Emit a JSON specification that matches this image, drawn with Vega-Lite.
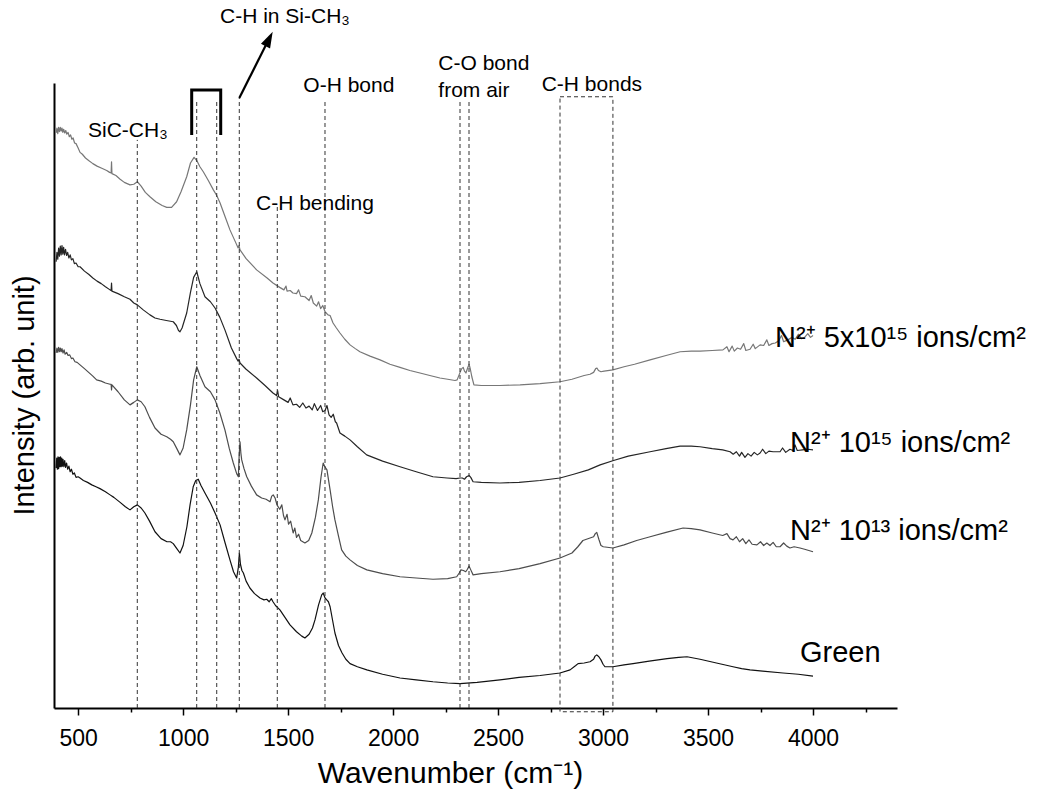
{
  "$schema": "https://vega.github.io/schema/vega-lite/v6.json",
  "width": 843,
  "height": 625,
  "autosize": "none",
  "padding": {"left": 54, "top": 83, "right": 148, "bottom": 84},
  "background": "white",
  "config": {
    "view": {"stroke": null},
    "font": "Liberation Sans",
    "axis": {"labelFont": "Liberation Sans", "titleFont": "Liberation Sans", "titleFontWeight": "normal", "titleColor": "black", "labelColor": "black"}
  },
  "datasets": {
    "spectra": [
      {"sample": "N2+ 5x10^15", "wavenumber": 395, "intensity": 92.0},
      {"sample": "N2+ 5x10^15", "wavenumber": 399, "intensity": 92.8},
      {"sample": "N2+ 5x10^15", "wavenumber": 403, "intensity": 91.9},
      {"sample": "N2+ 5x10^15", "wavenumber": 407, "intensity": 92.9},
      {"sample": "N2+ 5x10^15", "wavenumber": 411, "intensity": 92.2},
      {"sample": "N2+ 5x10^15", "wavenumber": 415, "intensity": 92.9},
      {"sample": "N2+ 5x10^15", "wavenumber": 419, "intensity": 92.3},
      {"sample": "N2+ 5x10^15", "wavenumber": 423, "intensity": 92.8},
      {"sample": "N2+ 5x10^15", "wavenumber": 427, "intensity": 92.1},
      {"sample": "N2+ 5x10^15", "wavenumber": 431, "intensity": 92.6},
      {"sample": "N2+ 5x10^15", "wavenumber": 436, "intensity": 92.0},
      {"sample": "N2+ 5x10^15", "wavenumber": 441, "intensity": 92.4},
      {"sample": "N2+ 5x10^15", "wavenumber": 446, "intensity": 91.8},
      {"sample": "N2+ 5x10^15", "wavenumber": 452, "intensity": 92.1},
      {"sample": "N2+ 5x10^15", "wavenumber": 458, "intensity": 91.4},
      {"sample": "N2+ 5x10^15", "wavenumber": 464, "intensity": 91.7},
      {"sample": "N2+ 5x10^15", "wavenumber": 470, "intensity": 91.0},
      {"sample": "N2+ 5x10^15", "wavenumber": 476, "intensity": 91.2},
      {"sample": "N2+ 5x10^15", "wavenumber": 483, "intensity": 90.4},
      {"sample": "N2+ 5x10^15", "wavenumber": 490, "intensity": 90.3},
      {"sample": "N2+ 5x10^15", "wavenumber": 500, "intensity": 89.6},
      {"sample": "N2+ 5x10^15", "wavenumber": 509, "intensity": 88.9},
      {"sample": "N2+ 5x10^15", "wavenumber": 520, "intensity": 88.6},
      {"sample": "N2+ 5x10^15", "wavenumber": 535, "intensity": 88.0},
      {"sample": "N2+ 5x10^15", "wavenumber": 550, "intensity": 87.6},
      {"sample": "N2+ 5x10^15", "wavenumber": 570, "intensity": 87.1},
      {"sample": "N2+ 5x10^15", "wavenumber": 590, "intensity": 86.7},
      {"sample": "N2+ 5x10^15", "wavenumber": 610, "intensity": 86.4},
      {"sample": "N2+ 5x10^15", "wavenumber": 636, "intensity": 86.0},
      {"sample": "N2+ 5x10^15", "wavenumber": 650, "intensity": 85.7},
      {"sample": "N2+ 5x10^15", "wavenumber": 657, "intensity": 85.6},
      {"sample": "N2+ 5x10^15", "wavenumber": 659, "intensity": 87.4},
      {"sample": "N2+ 5x10^15", "wavenumber": 661, "intensity": 85.5},
      {"sample": "N2+ 5x10^15", "wavenumber": 680, "intensity": 85.2},
      {"sample": "N2+ 5x10^15", "wavenumber": 700, "intensity": 84.6},
      {"sample": "N2+ 5x10^15", "wavenumber": 720, "intensity": 84.1},
      {"sample": "N2+ 5x10^15", "wavenumber": 747, "intensity": 83.7},
      {"sample": "N2+ 5x10^15", "wavenumber": 765, "intensity": 83.8},
      {"sample": "N2+ 5x10^15", "wavenumber": 782, "intensity": 84.2},
      {"sample": "N2+ 5x10^15", "wavenumber": 800, "intensity": 83.5},
      {"sample": "N2+ 5x10^15", "wavenumber": 820, "intensity": 82.5},
      {"sample": "N2+ 5x10^15", "wavenumber": 842, "intensity": 81.8},
      {"sample": "N2+ 5x10^15", "wavenumber": 870, "intensity": 81.0},
      {"sample": "N2+ 5x10^15", "wavenumber": 900, "intensity": 80.4},
      {"sample": "N2+ 5x10^15", "wavenumber": 922, "intensity": 80.1},
      {"sample": "N2+ 5x10^15", "wavenumber": 945, "intensity": 80.1},
      {"sample": "N2+ 5x10^15", "wavenumber": 969, "intensity": 81.0},
      {"sample": "N2+ 5x10^15", "wavenumber": 990, "intensity": 82.6},
      {"sample": "N2+ 5x10^15", "wavenumber": 1017, "intensity": 85.0},
      {"sample": "N2+ 5x10^15", "wavenumber": 1035, "intensity": 87.2},
      {"sample": "N2+ 5x10^15", "wavenumber": 1052, "intensity": 88.1},
      {"sample": "N2+ 5x10^15", "wavenumber": 1065, "intensity": 87.6},
      {"sample": "N2+ 5x10^15", "wavenumber": 1080, "intensity": 86.6},
      {"sample": "N2+ 5x10^15", "wavenumber": 1096, "intensity": 85.8},
      {"sample": "N2+ 5x10^15", "wavenumber": 1120, "intensity": 84.4},
      {"sample": "N2+ 5x10^15", "wavenumber": 1144, "intensity": 82.9},
      {"sample": "N2+ 5x10^15", "wavenumber": 1160, "intensity": 82.0},
      {"sample": "N2+ 5x10^15", "wavenumber": 1176, "intensity": 80.8},
      {"sample": "N2+ 5x10^15", "wavenumber": 1200, "intensity": 78.6},
      {"sample": "N2+ 5x10^15", "wavenumber": 1223, "intensity": 76.5},
      {"sample": "N2+ 5x10^15", "wavenumber": 1250, "intensity": 74.5},
      {"sample": "N2+ 5x10^15", "wavenumber": 1262, "intensity": 73.6},
      {"sample": "N2+ 5x10^15", "wavenumber": 1266, "intensity": 74.0},
      {"sample": "N2+ 5x10^15", "wavenumber": 1271, "intensity": 73.3},
      {"sample": "N2+ 5x10^15", "wavenumber": 1300, "intensity": 71.9},
      {"sample": "N2+ 5x10^15", "wavenumber": 1350, "intensity": 70.1},
      {"sample": "N2+ 5x10^15", "wavenumber": 1400, "intensity": 68.8},
      {"sample": "N2+ 5x10^15", "wavenumber": 1428, "intensity": 68.0},
      {"sample": "N2+ 5x10^15", "wavenumber": 1460, "intensity": 67.3},
      {"sample": "N2+ 5x10^15", "wavenumber": 1480, "intensity": 66.9},
      {"sample": "N2+ 5x10^15", "wavenumber": 1490, "intensity": 67.5},
      {"sample": "N2+ 5x10^15", "wavenumber": 1495, "intensity": 66.7},
      {"sample": "N2+ 5x10^15", "wavenumber": 1510, "intensity": 66.8},
      {"sample": "N2+ 5x10^15", "wavenumber": 1523, "intensity": 66.4},
      {"sample": "N2+ 5x10^15", "wavenumber": 1540, "intensity": 66.3},
      {"sample": "N2+ 5x10^15", "wavenumber": 1550, "intensity": 66.9},
      {"sample": "N2+ 5x10^15", "wavenumber": 1560, "intensity": 65.9},
      {"sample": "N2+ 5x10^15", "wavenumber": 1580, "intensity": 65.8},
      {"sample": "N2+ 5x10^15", "wavenumber": 1600, "intensity": 65.2},
      {"sample": "N2+ 5x10^15", "wavenumber": 1610, "intensity": 66.0},
      {"sample": "N2+ 5x10^15", "wavenumber": 1620, "intensity": 64.8},
      {"sample": "N2+ 5x10^15", "wavenumber": 1636, "intensity": 64.3},
      {"sample": "N2+ 5x10^15", "wavenumber": 1645, "intensity": 65.0},
      {"sample": "N2+ 5x10^15", "wavenumber": 1655, "intensity": 63.9},
      {"sample": "N2+ 5x10^15", "wavenumber": 1665, "intensity": 64.4},
      {"sample": "N2+ 5x10^15", "wavenumber": 1676, "intensity": 63.4},
      {"sample": "N2+ 5x10^15", "wavenumber": 1690, "intensity": 62.9},
      {"sample": "N2+ 5x10^15", "wavenumber": 1700, "intensity": 62.8},
      {"sample": "N2+ 5x10^15", "wavenumber": 1714, "intensity": 61.6},
      {"sample": "N2+ 5x10^15", "wavenumber": 1730, "intensity": 60.8},
      {"sample": "N2+ 5x10^15", "wavenumber": 1747, "intensity": 60.0},
      {"sample": "N2+ 5x10^15", "wavenumber": 1770, "intensity": 59.0},
      {"sample": "N2+ 5x10^15", "wavenumber": 1795, "intensity": 58.1},
      {"sample": "N2+ 5x10^15", "wavenumber": 1820, "intensity": 57.5},
      {"sample": "N2+ 5x10^15", "wavenumber": 1842, "intensity": 57.0},
      {"sample": "N2+ 5x10^15", "wavenumber": 1890, "intensity": 56.3},
      {"sample": "N2+ 5x10^15", "wavenumber": 1938, "intensity": 55.7},
      {"sample": "N2+ 5x10^15", "wavenumber": 1985, "intensity": 55.0},
      {"sample": "N2+ 5x10^15", "wavenumber": 2033, "intensity": 54.5},
      {"sample": "N2+ 5x10^15", "wavenumber": 2080, "intensity": 54.0},
      {"sample": "N2+ 5x10^15", "wavenumber": 2128, "intensity": 53.6},
      {"sample": "N2+ 5x10^15", "wavenumber": 2175, "intensity": 53.2},
      {"sample": "N2+ 5x10^15", "wavenumber": 2223, "intensity": 52.8},
      {"sample": "N2+ 5x10^15", "wavenumber": 2260, "intensity": 52.6},
      {"sample": "N2+ 5x10^15", "wavenumber": 2295, "intensity": 52.4},
      {"sample": "N2+ 5x10^15", "wavenumber": 2305, "intensity": 52.5},
      {"sample": "N2+ 5x10^15", "wavenumber": 2312, "intensity": 53.1},
      {"sample": "N2+ 5x10^15", "wavenumber": 2319, "intensity": 53.7},
      {"sample": "N2+ 5x10^15", "wavenumber": 2327, "intensity": 54.3},
      {"sample": "N2+ 5x10^15", "wavenumber": 2334, "intensity": 54.5},
      {"sample": "N2+ 5x10^15", "wavenumber": 2340, "intensity": 53.9},
      {"sample": "N2+ 5x10^15", "wavenumber": 2347, "intensity": 53.6},
      {"sample": "N2+ 5x10^15", "wavenumber": 2355, "intensity": 54.4},
      {"sample": "N2+ 5x10^15", "wavenumber": 2362, "intensity": 55.0},
      {"sample": "N2+ 5x10^15", "wavenumber": 2368, "intensity": 54.2},
      {"sample": "N2+ 5x10^15", "wavenumber": 2375, "intensity": 53.0},
      {"sample": "N2+ 5x10^15", "wavenumber": 2385, "intensity": 51.7},
      {"sample": "N2+ 5x10^15", "wavenumber": 2420, "intensity": 51.6},
      {"sample": "N2+ 5x10^15", "wavenumber": 2509, "intensity": 51.6},
      {"sample": "N2+ 5x10^15", "wavenumber": 2605, "intensity": 51.7},
      {"sample": "N2+ 5x10^15", "wavenumber": 2700, "intensity": 51.9},
      {"sample": "N2+ 5x10^15", "wavenumber": 2795, "intensity": 52.2},
      {"sample": "N2+ 5x10^15", "wavenumber": 2852, "intensity": 52.6},
      {"sample": "N2+ 5x10^15", "wavenumber": 2910, "intensity": 53.2},
      {"sample": "N2+ 5x10^15", "wavenumber": 2938, "intensity": 53.4},
      {"sample": "N2+ 5x10^15", "wavenumber": 2955, "intensity": 53.7},
      {"sample": "N2+ 5x10^15", "wavenumber": 2965, "intensity": 54.3},
      {"sample": "N2+ 5x10^15", "wavenumber": 2971, "intensity": 54.4},
      {"sample": "N2+ 5x10^15", "wavenumber": 2978, "intensity": 54.0},
      {"sample": "N2+ 5x10^15", "wavenumber": 2990, "intensity": 53.8},
      {"sample": "N2+ 5x10^15", "wavenumber": 3005, "intensity": 53.9},
      {"sample": "N2+ 5x10^15", "wavenumber": 3047, "intensity": 54.1},
      {"sample": "N2+ 5x10^15", "wavenumber": 3100, "intensity": 54.6},
      {"sample": "N2+ 5x10^15", "wavenumber": 3150, "intensity": 55.0},
      {"sample": "N2+ 5x10^15", "wavenumber": 3224, "intensity": 55.7},
      {"sample": "N2+ 5x10^15", "wavenumber": 3300, "intensity": 56.4},
      {"sample": "N2+ 5x10^15", "wavenumber": 3367, "intensity": 57.0},
      {"sample": "N2+ 5x10^15", "wavenumber": 3420, "intensity": 57.1},
      {"sample": "N2+ 5x10^15", "wavenumber": 3462, "intensity": 57.1},
      {"sample": "N2+ 5x10^15", "wavenumber": 3520, "intensity": 57.2},
      {"sample": "N2+ 5x10^15", "wavenumber": 3571, "intensity": 57.3},
      {"sample": "N2+ 5x10^15", "wavenumber": 3590, "intensity": 57.8},
      {"sample": "N2+ 5x10^15", "wavenumber": 3600, "intensity": 57.0},
      {"sample": "N2+ 5x10^15", "wavenumber": 3615, "intensity": 57.9},
      {"sample": "N2+ 5x10^15", "wavenumber": 3625, "intensity": 57.1},
      {"sample": "N2+ 5x10^15", "wavenumber": 3640, "intensity": 57.6},
      {"sample": "N2+ 5x10^15", "wavenumber": 3655, "intensity": 57.4},
      {"sample": "N2+ 5x10^15", "wavenumber": 3670, "intensity": 58.3},
      {"sample": "N2+ 5x10^15", "wavenumber": 3680, "intensity": 57.2},
      {"sample": "N2+ 5x10^15", "wavenumber": 3700, "intensity": 57.4},
      {"sample": "N2+ 5x10^15", "wavenumber": 3715, "intensity": 58.2},
      {"sample": "N2+ 5x10^15", "wavenumber": 3725, "intensity": 57.5},
      {"sample": "N2+ 5x10^15", "wavenumber": 3748, "intensity": 58.1},
      {"sample": "N2+ 5x10^15", "wavenumber": 3765, "intensity": 58.0},
      {"sample": "N2+ 5x10^15", "wavenumber": 3780, "intensity": 58.9},
      {"sample": "N2+ 5x10^15", "wavenumber": 3790, "intensity": 58.0},
      {"sample": "N2+ 5x10^15", "wavenumber": 3805, "intensity": 58.3},
      {"sample": "N2+ 5x10^15", "wavenumber": 3820, "intensity": 58.4},
      {"sample": "N2+ 5x10^15", "wavenumber": 3835, "intensity": 58.7},
      {"sample": "N2+ 5x10^15", "wavenumber": 3850, "intensity": 59.6},
      {"sample": "N2+ 5x10^15", "wavenumber": 3860, "intensity": 58.6},
      {"sample": "N2+ 5x10^15", "wavenumber": 3880, "intensity": 58.9},
      {"sample": "N2+ 5x10^15", "wavenumber": 3900, "intensity": 59.3},
      {"sample": "N2+ 5x10^15", "wavenumber": 3915, "intensity": 59.0},
      {"sample": "N2+ 5x10^15", "wavenumber": 3930, "intensity": 59.8},
      {"sample": "N2+ 5x10^15", "wavenumber": 3945, "intensity": 59.1},
      {"sample": "N2+ 5x10^15", "wavenumber": 3960, "intensity": 59.3},
      {"sample": "N2+ 5x10^15", "wavenumber": 3975, "intensity": 59.9},
      {"sample": "N2+ 5x10^15", "wavenumber": 3988, "intensity": 59.3},
      {"sample": "N2+ 5x10^15", "wavenumber": 4000, "intensity": 59.6},

      {"sample": "N2+ 10^15", "wavenumber": 395, "intensity": 71.4},
      {"sample": "N2+ 10^15", "wavenumber": 399, "intensity": 72.9},
      {"sample": "N2+ 10^15", "wavenumber": 403, "intensity": 71.8},
      {"sample": "N2+ 10^15", "wavenumber": 407, "intensity": 73.6},
      {"sample": "N2+ 10^15", "wavenumber": 411, "intensity": 72.3},
      {"sample": "N2+ 10^15", "wavenumber": 415, "intensity": 73.9},
      {"sample": "N2+ 10^15", "wavenumber": 419, "intensity": 72.5},
      {"sample": "N2+ 10^15", "wavenumber": 423, "intensity": 74.0},
      {"sample": "N2+ 10^15", "wavenumber": 427, "intensity": 72.6},
      {"sample": "N2+ 10^15", "wavenumber": 431, "intensity": 73.7},
      {"sample": "N2+ 10^15", "wavenumber": 435, "intensity": 72.5},
      {"sample": "N2+ 10^15", "wavenumber": 440, "intensity": 73.4},
      {"sample": "N2+ 10^15", "wavenumber": 445, "intensity": 72.4},
      {"sample": "N2+ 10^15", "wavenumber": 450, "intensity": 72.9},
      {"sample": "N2+ 10^15", "wavenumber": 456, "intensity": 72.0},
      {"sample": "N2+ 10^15", "wavenumber": 462, "intensity": 72.5},
      {"sample": "N2+ 10^15", "wavenumber": 468, "intensity": 71.7},
      {"sample": "N2+ 10^15", "wavenumber": 475, "intensity": 71.9},
      {"sample": "N2+ 10^15", "wavenumber": 482, "intensity": 71.1},
      {"sample": "N2+ 10^15", "wavenumber": 490, "intensity": 71.2},
      {"sample": "N2+ 10^15", "wavenumber": 500, "intensity": 70.6},
      {"sample": "N2+ 10^15", "wavenumber": 509, "intensity": 70.6},
      {"sample": "N2+ 10^15", "wavenumber": 530, "intensity": 69.9},
      {"sample": "N2+ 10^15", "wavenumber": 550, "intensity": 69.4},
      {"sample": "N2+ 10^15", "wavenumber": 570, "intensity": 68.8},
      {"sample": "N2+ 10^15", "wavenumber": 590, "intensity": 68.3},
      {"sample": "N2+ 10^15", "wavenumber": 610, "intensity": 67.9},
      {"sample": "N2+ 10^15", "wavenumber": 630, "intensity": 67.4},
      {"sample": "N2+ 10^15", "wavenumber": 652, "intensity": 66.9},
      {"sample": "N2+ 10^15", "wavenumber": 657, "intensity": 66.8},
      {"sample": "N2+ 10^15", "wavenumber": 659, "intensity": 68.0},
      {"sample": "N2+ 10^15", "wavenumber": 661, "intensity": 66.7},
      {"sample": "N2+ 10^15", "wavenumber": 690, "intensity": 66.3},
      {"sample": "N2+ 10^15", "wavenumber": 720, "intensity": 65.8},
      {"sample": "N2+ 10^15", "wavenumber": 747, "intensity": 65.4},
      {"sample": "N2+ 10^15", "wavenumber": 765, "intensity": 64.8},
      {"sample": "N2+ 10^15", "wavenumber": 782, "intensity": 64.5},
      {"sample": "N2+ 10^15", "wavenumber": 810, "intensity": 63.7},
      {"sample": "N2+ 10^15", "wavenumber": 842, "intensity": 62.9},
      {"sample": "N2+ 10^15", "wavenumber": 866, "intensity": 62.4},
      {"sample": "N2+ 10^15", "wavenumber": 890, "intensity": 62.2},
      {"sample": "N2+ 10^15", "wavenumber": 920, "intensity": 62.0},
      {"sample": "N2+ 10^15", "wavenumber": 953, "intensity": 61.8},
      {"sample": "N2+ 10^15", "wavenumber": 968, "intensity": 61.2},
      {"sample": "N2+ 10^15", "wavenumber": 978, "intensity": 60.4},
      {"sample": "N2+ 10^15", "wavenumber": 985, "intensity": 60.2},
      {"sample": "N2+ 10^15", "wavenumber": 995, "intensity": 60.8},
      {"sample": "N2+ 10^15", "wavenumber": 1017, "intensity": 63.2},
      {"sample": "N2+ 10^15", "wavenumber": 1035, "intensity": 66.5},
      {"sample": "N2+ 10^15", "wavenumber": 1050, "intensity": 68.9},
      {"sample": "N2+ 10^15", "wavenumber": 1065, "intensity": 69.8},
      {"sample": "N2+ 10^15", "wavenumber": 1080, "intensity": 67.9},
      {"sample": "N2+ 10^15", "wavenumber": 1104, "intensity": 65.8},
      {"sample": "N2+ 10^15", "wavenumber": 1130, "intensity": 65.0},
      {"sample": "N2+ 10^15", "wavenumber": 1152, "intensity": 64.0},
      {"sample": "N2+ 10^15", "wavenumber": 1175, "intensity": 62.5},
      {"sample": "N2+ 10^15", "wavenumber": 1199, "intensity": 60.5},
      {"sample": "N2+ 10^15", "wavenumber": 1230, "intensity": 57.6},
      {"sample": "N2+ 10^15", "wavenumber": 1255, "intensity": 55.9},
      {"sample": "N2+ 10^15", "wavenumber": 1262, "intensity": 55.5},
      {"sample": "N2+ 10^15", "wavenumber": 1266, "intensity": 55.8},
      {"sample": "N2+ 10^15", "wavenumber": 1271, "intensity": 55.2},
      {"sample": "N2+ 10^15", "wavenumber": 1300, "intensity": 54.2},
      {"sample": "N2+ 10^15", "wavenumber": 1350, "intensity": 52.8},
      {"sample": "N2+ 10^15", "wavenumber": 1390, "intensity": 51.6},
      {"sample": "N2+ 10^15", "wavenumber": 1428, "intensity": 50.4},
      {"sample": "N2+ 10^15", "wavenumber": 1445, "intensity": 50.0},
      {"sample": "N2+ 10^15", "wavenumber": 1450, "intensity": 50.8},
      {"sample": "N2+ 10^15", "wavenumber": 1455, "intensity": 49.8},
      {"sample": "N2+ 10^15", "wavenumber": 1480, "intensity": 49.3},
      {"sample": "N2+ 10^15", "wavenumber": 1500, "intensity": 48.9},
      {"sample": "N2+ 10^15", "wavenumber": 1510, "intensity": 49.6},
      {"sample": "N2+ 10^15", "wavenumber": 1523, "intensity": 48.5},
      {"sample": "N2+ 10^15", "wavenumber": 1540, "intensity": 48.6},
      {"sample": "N2+ 10^15", "wavenumber": 1555, "intensity": 48.1},
      {"sample": "N2+ 10^15", "wavenumber": 1570, "intensity": 48.8},
      {"sample": "N2+ 10^15", "wavenumber": 1585, "intensity": 48.0},
      {"sample": "N2+ 10^15", "wavenumber": 1600, "intensity": 48.3},
      {"sample": "N2+ 10^15", "wavenumber": 1615, "intensity": 47.7},
      {"sample": "N2+ 10^15", "wavenumber": 1625, "intensity": 48.7},
      {"sample": "N2+ 10^15", "wavenumber": 1640, "intensity": 47.6},
      {"sample": "N2+ 10^15", "wavenumber": 1655, "intensity": 48.4},
      {"sample": "N2+ 10^15", "wavenumber": 1665, "intensity": 47.4},
      {"sample": "N2+ 10^15", "wavenumber": 1676, "intensity": 47.6},
      {"sample": "N2+ 10^15", "wavenumber": 1685, "intensity": 48.4},
      {"sample": "N2+ 10^15", "wavenumber": 1695, "intensity": 46.9},
      {"sample": "N2+ 10^15", "wavenumber": 1705, "intensity": 46.5},
      {"sample": "N2+ 10^15", "wavenumber": 1715, "intensity": 47.0},
      {"sample": "N2+ 10^15", "wavenumber": 1725, "intensity": 45.8},
      {"sample": "N2+ 10^15", "wavenumber": 1731, "intensity": 45.6},
      {"sample": "N2+ 10^15", "wavenumber": 1747, "intensity": 44.0},
      {"sample": "N2+ 10^15", "wavenumber": 1770, "intensity": 43.5},
      {"sample": "N2+ 10^15", "wavenumber": 1795, "intensity": 42.9},
      {"sample": "N2+ 10^15", "wavenumber": 1830, "intensity": 41.8},
      {"sample": "N2+ 10^15", "wavenumber": 1874, "intensity": 40.5},
      {"sample": "N2+ 10^15", "wavenumber": 1950, "intensity": 39.5},
      {"sample": "N2+ 10^15", "wavenumber": 2033, "intensity": 38.6},
      {"sample": "N2+ 10^15", "wavenumber": 2110, "intensity": 37.8},
      {"sample": "N2+ 10^15", "wavenumber": 2190, "intensity": 37.0},
      {"sample": "N2+ 10^15", "wavenumber": 2257, "intensity": 36.8},
      {"sample": "N2+ 10^15", "wavenumber": 2300, "intensity": 36.7},
      {"sample": "N2+ 10^15", "wavenumber": 2319, "intensity": 36.8},
      {"sample": "N2+ 10^15", "wavenumber": 2330, "intensity": 36.8},
      {"sample": "N2+ 10^15", "wavenumber": 2340, "intensity": 36.6},
      {"sample": "N2+ 10^15", "wavenumber": 2350, "intensity": 37.0},
      {"sample": "N2+ 10^15", "wavenumber": 2362, "intensity": 37.2},
      {"sample": "N2+ 10^15", "wavenumber": 2370, "intensity": 36.9},
      {"sample": "N2+ 10^15", "wavenumber": 2381, "intensity": 36.2},
      {"sample": "N2+ 10^15", "wavenumber": 2420, "intensity": 36.1},
      {"sample": "N2+ 10^15", "wavenumber": 2509, "intensity": 36.0},
      {"sample": "N2+ 10^15", "wavenumber": 2600, "intensity": 36.1},
      {"sample": "N2+ 10^15", "wavenumber": 2700, "intensity": 36.4},
      {"sample": "N2+ 10^15", "wavenumber": 2795, "intensity": 36.8},
      {"sample": "N2+ 10^15", "wavenumber": 2860, "intensity": 37.4},
      {"sample": "N2+ 10^15", "wavenumber": 2930, "intensity": 38.1},
      {"sample": "N2+ 10^15", "wavenumber": 2986, "intensity": 38.9},
      {"sample": "N2+ 10^15", "wavenumber": 3050, "intensity": 39.6},
      {"sample": "N2+ 10^15", "wavenumber": 3120, "intensity": 40.3},
      {"sample": "N2+ 10^15", "wavenumber": 3224, "intensity": 41.0},
      {"sample": "N2+ 10^15", "wavenumber": 3300, "intensity": 41.5},
      {"sample": "N2+ 10^15", "wavenumber": 3367, "intensity": 41.9},
      {"sample": "N2+ 10^15", "wavenumber": 3420, "intensity": 41.9},
      {"sample": "N2+ 10^15", "wavenumber": 3462, "intensity": 41.8},
      {"sample": "N2+ 10^15", "wavenumber": 3520, "intensity": 41.5},
      {"sample": "N2+ 10^15", "wavenumber": 3570, "intensity": 41.3},
      {"sample": "N2+ 10^15", "wavenumber": 3605, "intensity": 41.0},
      {"sample": "N2+ 10^15", "wavenumber": 3620, "intensity": 40.6},
      {"sample": "N2+ 10^15", "wavenumber": 3635, "intensity": 41.0},
      {"sample": "N2+ 10^15", "wavenumber": 3650, "intensity": 40.3},
      {"sample": "N2+ 10^15", "wavenumber": 3660, "intensity": 40.9},
      {"sample": "N2+ 10^15", "wavenumber": 3676, "intensity": 40.1},
      {"sample": "N2+ 10^15", "wavenumber": 3690, "intensity": 40.7},
      {"sample": "N2+ 10^15", "wavenumber": 3705, "intensity": 40.3},
      {"sample": "N2+ 10^15", "wavenumber": 3720, "intensity": 40.9},
      {"sample": "N2+ 10^15", "wavenumber": 3735, "intensity": 40.5},
      {"sample": "N2+ 10^15", "wavenumber": 3748, "intensity": 40.8},
      {"sample": "N2+ 10^15", "wavenumber": 3760, "intensity": 41.4},
      {"sample": "N2+ 10^15", "wavenumber": 3775, "intensity": 40.7},
      {"sample": "N2+ 10^15", "wavenumber": 3790, "intensity": 41.1},
      {"sample": "N2+ 10^15", "wavenumber": 3810, "intensity": 41.0},
      {"sample": "N2+ 10^15", "wavenumber": 3843, "intensity": 41.0},
      {"sample": "N2+ 10^15", "wavenumber": 3855, "intensity": 41.6},
      {"sample": "N2+ 10^15", "wavenumber": 3870, "intensity": 40.9},
      {"sample": "N2+ 10^15", "wavenumber": 3890, "intensity": 41.4},
      {"sample": "N2+ 10^15", "wavenumber": 3905, "intensity": 41.2},
      {"sample": "N2+ 10^15", "wavenumber": 3914, "intensity": 42.1},
      {"sample": "N2+ 10^15", "wavenumber": 3925, "intensity": 41.2},
      {"sample": "N2+ 10^15", "wavenumber": 3950, "intensity": 41.3},
      {"sample": "N2+ 10^15", "wavenumber": 3975, "intensity": 41.4},
      {"sample": "N2+ 10^15", "wavenumber": 4000, "intensity": 41.3},

      {"sample": "N2+ 10^13", "wavenumber": 395, "intensity": 56.8},
      {"sample": "N2+ 10^13", "wavenumber": 399, "intensity": 57.6},
      {"sample": "N2+ 10^13", "wavenumber": 403, "intensity": 56.9},
      {"sample": "N2+ 10^13", "wavenumber": 407, "intensity": 57.7},
      {"sample": "N2+ 10^13", "wavenumber": 411, "intensity": 57.0},
      {"sample": "N2+ 10^13", "wavenumber": 415, "intensity": 57.6},
      {"sample": "N2+ 10^13", "wavenumber": 419, "intensity": 57.0},
      {"sample": "N2+ 10^13", "wavenumber": 423, "intensity": 57.5},
      {"sample": "N2+ 10^13", "wavenumber": 428, "intensity": 56.8},
      {"sample": "N2+ 10^13", "wavenumber": 433, "intensity": 57.3},
      {"sample": "N2+ 10^13", "wavenumber": 438, "intensity": 56.6},
      {"sample": "N2+ 10^13", "wavenumber": 445, "intensity": 56.9},
      {"sample": "N2+ 10^13", "wavenumber": 452, "intensity": 56.4},
      {"sample": "N2+ 10^13", "wavenumber": 460, "intensity": 56.5},
      {"sample": "N2+ 10^13", "wavenumber": 468, "intensity": 55.9},
      {"sample": "N2+ 10^13", "wavenumber": 475, "intensity": 56.0},
      {"sample": "N2+ 10^13", "wavenumber": 485, "intensity": 55.4},
      {"sample": "N2+ 10^13", "wavenumber": 495, "intensity": 55.3},
      {"sample": "N2+ 10^13", "wavenumber": 509, "intensity": 54.9},
      {"sample": "N2+ 10^13", "wavenumber": 530, "intensity": 54.3},
      {"sample": "N2+ 10^13", "wavenumber": 550, "intensity": 53.7},
      {"sample": "N2+ 10^13", "wavenumber": 570, "intensity": 53.1},
      {"sample": "N2+ 10^13", "wavenumber": 588, "intensity": 52.5},
      {"sample": "N2+ 10^13", "wavenumber": 610, "intensity": 52.3},
      {"sample": "N2+ 10^13", "wavenumber": 630, "intensity": 52.0},
      {"sample": "N2+ 10^13", "wavenumber": 652, "intensity": 51.8},
      {"sample": "N2+ 10^13", "wavenumber": 657, "intensity": 51.8},
      {"sample": "N2+ 10^13", "wavenumber": 659, "intensity": 50.9},
      {"sample": "N2+ 10^13", "wavenumber": 661, "intensity": 51.7},
      {"sample": "N2+ 10^13", "wavenumber": 690, "intensity": 50.6},
      {"sample": "N2+ 10^13", "wavenumber": 720, "intensity": 49.3},
      {"sample": "N2+ 10^13", "wavenumber": 747, "intensity": 48.5},
      {"sample": "N2+ 10^13", "wavenumber": 765, "intensity": 48.9},
      {"sample": "N2+ 10^13", "wavenumber": 782, "intensity": 49.3},
      {"sample": "N2+ 10^13", "wavenumber": 800, "intensity": 49.0},
      {"sample": "N2+ 10^13", "wavenumber": 818, "intensity": 48.2},
      {"sample": "N2+ 10^13", "wavenumber": 840, "intensity": 46.5},
      {"sample": "N2+ 10^13", "wavenumber": 866, "intensity": 44.8},
      {"sample": "N2+ 10^13", "wavenumber": 895, "intensity": 43.8},
      {"sample": "N2+ 10^13", "wavenumber": 922, "intensity": 43.4},
      {"sample": "N2+ 10^13", "wavenumber": 940, "intensity": 43.0},
      {"sample": "N2+ 10^13", "wavenumber": 953, "intensity": 42.6},
      {"sample": "N2+ 10^13", "wavenumber": 970, "intensity": 41.5},
      {"sample": "N2+ 10^13", "wavenumber": 985, "intensity": 40.5},
      {"sample": "N2+ 10^13", "wavenumber": 1000, "intensity": 41.6},
      {"sample": "N2+ 10^13", "wavenumber": 1017, "intensity": 44.5},
      {"sample": "N2+ 10^13", "wavenumber": 1035, "intensity": 48.5},
      {"sample": "N2+ 10^13", "wavenumber": 1050, "intensity": 52.5},
      {"sample": "N2+ 10^13", "wavenumber": 1065, "intensity": 54.6},
      {"sample": "N2+ 10^13", "wavenumber": 1080, "intensity": 53.2},
      {"sample": "N2+ 10^13", "wavenumber": 1104, "intensity": 51.4},
      {"sample": "N2+ 10^13", "wavenumber": 1130, "intensity": 50.6},
      {"sample": "N2+ 10^13", "wavenumber": 1152, "intensity": 49.3},
      {"sample": "N2+ 10^13", "wavenumber": 1175, "intensity": 47.2},
      {"sample": "N2+ 10^13", "wavenumber": 1199, "intensity": 44.5},
      {"sample": "N2+ 10^13", "wavenumber": 1220, "intensity": 41.5},
      {"sample": "N2+ 10^13", "wavenumber": 1239, "intensity": 39.2},
      {"sample": "N2+ 10^13", "wavenumber": 1255, "intensity": 37.5},
      {"sample": "N2+ 10^13", "wavenumber": 1263, "intensity": 37.0},
      {"sample": "N2+ 10^13", "wavenumber": 1267, "intensity": 40.5},
      {"sample": "N2+ 10^13", "wavenumber": 1271, "intensity": 42.6},
      {"sample": "N2+ 10^13", "wavenumber": 1275, "intensity": 40.8},
      {"sample": "N2+ 10^13", "wavenumber": 1279, "intensity": 39.7},
      {"sample": "N2+ 10^13", "wavenumber": 1290, "intensity": 38.3},
      {"sample": "N2+ 10^13", "wavenumber": 1303, "intensity": 37.0},
      {"sample": "N2+ 10^13", "wavenumber": 1325, "intensity": 35.5},
      {"sample": "N2+ 10^13", "wavenumber": 1350, "intensity": 34.1},
      {"sample": "N2+ 10^13", "wavenumber": 1374, "intensity": 33.6},
      {"sample": "N2+ 10^13", "wavenumber": 1395, "intensity": 33.4},
      {"sample": "N2+ 10^13", "wavenumber": 1414, "intensity": 33.0},
      {"sample": "N2+ 10^13", "wavenumber": 1422, "intensity": 33.9},
      {"sample": "N2+ 10^13", "wavenumber": 1429, "intensity": 34.1},
      {"sample": "N2+ 10^13", "wavenumber": 1438, "intensity": 33.6},
      {"sample": "N2+ 10^13", "wavenumber": 1447, "intensity": 32.5},
      {"sample": "N2+ 10^13", "wavenumber": 1460, "intensity": 31.8},
      {"sample": "N2+ 10^13", "wavenumber": 1470, "intensity": 32.5},
      {"sample": "N2+ 10^13", "wavenumber": 1478, "intensity": 30.8},
      {"sample": "N2+ 10^13", "wavenumber": 1485, "intensity": 30.1},
      {"sample": "N2+ 10^13", "wavenumber": 1495, "intensity": 31.0},
      {"sample": "N2+ 10^13", "wavenumber": 1502, "intensity": 29.4},
      {"sample": "N2+ 10^13", "wavenumber": 1512, "intensity": 29.9},
      {"sample": "N2+ 10^13", "wavenumber": 1524, "intensity": 28.0},
      {"sample": "N2+ 10^13", "wavenumber": 1532, "intensity": 28.8},
      {"sample": "N2+ 10^13", "wavenumber": 1540, "intensity": 27.3},
      {"sample": "N2+ 10^13", "wavenumber": 1550, "intensity": 27.8},
      {"sample": "N2+ 10^13", "wavenumber": 1560, "intensity": 26.8},
      {"sample": "N2+ 10^13", "wavenumber": 1580, "intensity": 26.4},
      {"sample": "N2+ 10^13", "wavenumber": 1598, "intensity": 26.8},
      {"sample": "N2+ 10^13", "wavenumber": 1613, "intensity": 28.0},
      {"sample": "N2+ 10^13", "wavenumber": 1630, "intensity": 30.5},
      {"sample": "N2+ 10^13", "wavenumber": 1644, "intensity": 33.3},
      {"sample": "N2+ 10^13", "wavenumber": 1657, "intensity": 37.0},
      {"sample": "N2+ 10^13", "wavenumber": 1667, "intensity": 39.2},
      {"sample": "N2+ 10^13", "wavenumber": 1675, "intensity": 38.6},
      {"sample": "N2+ 10^13", "wavenumber": 1685, "intensity": 38.1},
      {"sample": "N2+ 10^13", "wavenumber": 1700, "intensity": 34.9},
      {"sample": "N2+ 10^13", "wavenumber": 1712, "intensity": 32.2},
      {"sample": "N2+ 10^13", "wavenumber": 1723, "intensity": 30.1},
      {"sample": "N2+ 10^13", "wavenumber": 1740, "intensity": 27.5},
      {"sample": "N2+ 10^13", "wavenumber": 1755, "intensity": 25.3},
      {"sample": "N2+ 10^13", "wavenumber": 1775, "intensity": 24.3},
      {"sample": "N2+ 10^13", "wavenumber": 1795, "intensity": 23.7},
      {"sample": "N2+ 10^13", "wavenumber": 1830, "intensity": 22.8},
      {"sample": "N2+ 10^13", "wavenumber": 1875, "intensity": 22.1},
      {"sample": "N2+ 10^13", "wavenumber": 1950, "intensity": 21.5},
      {"sample": "N2+ 10^13", "wavenumber": 2033, "intensity": 21.0},
      {"sample": "N2+ 10^13", "wavenumber": 2110, "intensity": 20.8},
      {"sample": "N2+ 10^13", "wavenumber": 2190, "intensity": 20.6},
      {"sample": "N2+ 10^13", "wavenumber": 2260, "intensity": 20.7},
      {"sample": "N2+ 10^13", "wavenumber": 2303, "intensity": 21.0},
      {"sample": "N2+ 10^13", "wavenumber": 2315, "intensity": 21.6},
      {"sample": "N2+ 10^13", "wavenumber": 2323, "intensity": 22.1},
      {"sample": "N2+ 10^13", "wavenumber": 2335, "intensity": 22.0},
      {"sample": "N2+ 10^13", "wavenumber": 2346, "intensity": 21.8},
      {"sample": "N2+ 10^13", "wavenumber": 2354, "intensity": 22.2},
      {"sample": "N2+ 10^13", "wavenumber": 2362, "intensity": 22.7},
      {"sample": "N2+ 10^13", "wavenumber": 2370, "intensity": 22.1},
      {"sample": "N2+ 10^13", "wavenumber": 2381, "intensity": 21.3},
      {"sample": "N2+ 10^13", "wavenumber": 2420, "intensity": 21.5},
      {"sample": "N2+ 10^13", "wavenumber": 2509, "intensity": 21.8},
      {"sample": "N2+ 10^13", "wavenumber": 2600, "intensity": 22.3},
      {"sample": "N2+ 10^13", "wavenumber": 2700, "intensity": 23.1},
      {"sample": "N2+ 10^13", "wavenumber": 2795, "intensity": 24.0},
      {"sample": "N2+ 10^13", "wavenumber": 2852, "intensity": 24.8},
      {"sample": "N2+ 10^13", "wavenumber": 2880, "intensity": 25.8},
      {"sample": "N2+ 10^13", "wavenumber": 2904, "intensity": 26.8},
      {"sample": "N2+ 10^13", "wavenumber": 2938, "intensity": 27.2},
      {"sample": "N2+ 10^13", "wavenumber": 2955, "intensity": 27.4},
      {"sample": "N2+ 10^13", "wavenumber": 2963, "intensity": 27.9},
      {"sample": "N2+ 10^13", "wavenumber": 2970, "intensity": 28.1},
      {"sample": "N2+ 10^13", "wavenumber": 2980, "intensity": 27.0},
      {"sample": "N2+ 10^13", "wavenumber": 2990, "intensity": 26.0},
      {"sample": "N2+ 10^13", "wavenumber": 3001, "intensity": 25.8},
      {"sample": "N2+ 10^13", "wavenumber": 3047, "intensity": 25.6},
      {"sample": "N2+ 10^13", "wavenumber": 3100, "intensity": 26.1},
      {"sample": "N2+ 10^13", "wavenumber": 3160, "intensity": 26.8},
      {"sample": "N2+ 10^13", "wavenumber": 3224, "intensity": 27.4},
      {"sample": "N2+ 10^13", "wavenumber": 3300, "intensity": 28.1},
      {"sample": "N2+ 10^13", "wavenumber": 3381, "intensity": 28.8},
      {"sample": "N2+ 10^13", "wavenumber": 3420, "intensity": 28.7},
      {"sample": "N2+ 10^13", "wavenumber": 3462, "intensity": 28.5},
      {"sample": "N2+ 10^13", "wavenumber": 3520, "intensity": 28.0},
      {"sample": "N2+ 10^13", "wavenumber": 3570, "intensity": 27.6},
      {"sample": "N2+ 10^13", "wavenumber": 3590, "intensity": 27.9},
      {"sample": "N2+ 10^13", "wavenumber": 3605, "intensity": 27.1},
      {"sample": "N2+ 10^13", "wavenumber": 3619, "intensity": 26.9},
      {"sample": "N2+ 10^13", "wavenumber": 3635, "intensity": 27.4},
      {"sample": "N2+ 10^13", "wavenumber": 3650, "intensity": 26.6},
      {"sample": "N2+ 10^13", "wavenumber": 3665, "intensity": 27.1},
      {"sample": "N2+ 10^13", "wavenumber": 3680, "intensity": 26.3},
      {"sample": "N2+ 10^13", "wavenumber": 3695, "intensity": 26.9},
      {"sample": "N2+ 10^13", "wavenumber": 3710, "intensity": 26.2},
      {"sample": "N2+ 10^13", "wavenumber": 3733, "intensity": 26.1},
      {"sample": "N2+ 10^13", "wavenumber": 3750, "intensity": 26.6},
      {"sample": "N2+ 10^13", "wavenumber": 3765, "intensity": 26.0},
      {"sample": "N2+ 10^13", "wavenumber": 3780, "intensity": 26.4},
      {"sample": "N2+ 10^13", "wavenumber": 3795, "intensity": 26.0},
      {"sample": "N2+ 10^13", "wavenumber": 3810, "intensity": 26.5},
      {"sample": "N2+ 10^13", "wavenumber": 3825, "intensity": 25.8},
      {"sample": "N2+ 10^13", "wavenumber": 3843, "intensity": 25.8},
      {"sample": "N2+ 10^13", "wavenumber": 3860, "intensity": 26.4},
      {"sample": "N2+ 10^13", "wavenumber": 3875, "intensity": 25.9},
      {"sample": "N2+ 10^13", "wavenumber": 3890, "intensity": 25.6},
      {"sample": "N2+ 10^13", "wavenumber": 3910, "intensity": 25.8},
      {"sample": "N2+ 10^13", "wavenumber": 3938, "intensity": 25.6},
      {"sample": "N2+ 10^13", "wavenumber": 3960, "intensity": 25.4},
      {"sample": "N2+ 10^13", "wavenumber": 3980, "intensity": 25.2},
      {"sample": "N2+ 10^13", "wavenumber": 4000, "intensity": 25.0},

      {"sample": "Green", "wavenumber": 395, "intensity": 38.4},
      {"sample": "Green", "wavenumber": 398, "intensity": 40.0},
      {"sample": "Green", "wavenumber": 401, "intensity": 38.2},
      {"sample": "Green", "wavenumber": 404, "intensity": 40.2},
      {"sample": "Green", "wavenumber": 407, "intensity": 38.3},
      {"sample": "Green", "wavenumber": 410, "intensity": 40.1},
      {"sample": "Green", "wavenumber": 413, "intensity": 38.6},
      {"sample": "Green", "wavenumber": 416, "intensity": 40.2},
      {"sample": "Green", "wavenumber": 419, "intensity": 38.6},
      {"sample": "Green", "wavenumber": 422, "intensity": 40.0},
      {"sample": "Green", "wavenumber": 425, "intensity": 38.7},
      {"sample": "Green", "wavenumber": 428, "intensity": 39.8},
      {"sample": "Green", "wavenumber": 432, "intensity": 38.6},
      {"sample": "Green", "wavenumber": 436, "intensity": 39.6},
      {"sample": "Green", "wavenumber": 440, "intensity": 38.5},
      {"sample": "Green", "wavenumber": 445, "intensity": 39.2},
      {"sample": "Green", "wavenumber": 450, "intensity": 38.2},
      {"sample": "Green", "wavenumber": 456, "intensity": 38.7},
      {"sample": "Green", "wavenumber": 462, "intensity": 37.8},
      {"sample": "Green", "wavenumber": 468, "intensity": 38.2},
      {"sample": "Green", "wavenumber": 475, "intensity": 37.4},
      {"sample": "Green", "wavenumber": 482, "intensity": 37.6},
      {"sample": "Green", "wavenumber": 490, "intensity": 36.9},
      {"sample": "Green", "wavenumber": 500, "intensity": 37.0},
      {"sample": "Green", "wavenumber": 509, "intensity": 36.8},
      {"sample": "Green", "wavenumber": 525, "intensity": 36.4},
      {"sample": "Green", "wavenumber": 545, "intensity": 36.1},
      {"sample": "Green", "wavenumber": 565, "intensity": 35.7},
      {"sample": "Green", "wavenumber": 585, "intensity": 35.4},
      {"sample": "Green", "wavenumber": 604, "intensity": 35.1},
      {"sample": "Green", "wavenumber": 630, "intensity": 34.6},
      {"sample": "Green", "wavenumber": 652, "intensity": 34.1},
      {"sample": "Green", "wavenumber": 670, "intensity": 33.7},
      {"sample": "Green", "wavenumber": 700, "intensity": 32.9},
      {"sample": "Green", "wavenumber": 725, "intensity": 32.2},
      {"sample": "Green", "wavenumber": 747, "intensity": 31.7},
      {"sample": "Green", "wavenumber": 765, "intensity": 32.2},
      {"sample": "Green", "wavenumber": 782, "intensity": 32.5},
      {"sample": "Green", "wavenumber": 800, "intensity": 32.0},
      {"sample": "Green", "wavenumber": 818, "intensity": 31.2},
      {"sample": "Green", "wavenumber": 840, "intensity": 29.9},
      {"sample": "Green", "wavenumber": 866, "intensity": 28.2},
      {"sample": "Green", "wavenumber": 895, "intensity": 27.1},
      {"sample": "Green", "wavenumber": 923, "intensity": 26.6},
      {"sample": "Green", "wavenumber": 940, "intensity": 26.6},
      {"sample": "Green", "wavenumber": 953, "intensity": 26.3},
      {"sample": "Green", "wavenumber": 970, "intensity": 25.5},
      {"sample": "Green", "wavenumber": 985, "intensity": 24.8},
      {"sample": "Green", "wavenumber": 1000, "intensity": 26.0},
      {"sample": "Green", "wavenumber": 1018, "intensity": 29.0},
      {"sample": "Green", "wavenumber": 1033, "intensity": 32.5},
      {"sample": "Green", "wavenumber": 1048, "intensity": 35.4},
      {"sample": "Green", "wavenumber": 1060, "intensity": 36.4},
      {"sample": "Green", "wavenumber": 1072, "intensity": 36.6},
      {"sample": "Green", "wavenumber": 1085, "intensity": 35.6},
      {"sample": "Green", "wavenumber": 1104, "intensity": 34.4},
      {"sample": "Green", "wavenumber": 1130, "intensity": 32.8},
      {"sample": "Green", "wavenumber": 1152, "intensity": 31.2},
      {"sample": "Green", "wavenumber": 1176, "intensity": 29.3},
      {"sample": "Green", "wavenumber": 1200, "intensity": 26.4},
      {"sample": "Green", "wavenumber": 1223, "intensity": 23.7},
      {"sample": "Green", "wavenumber": 1240, "intensity": 21.8},
      {"sample": "Green", "wavenumber": 1255, "intensity": 20.8},
      {"sample": "Green", "wavenumber": 1263, "intensity": 22.5},
      {"sample": "Green", "wavenumber": 1268, "intensity": 24.8},
      {"sample": "Green", "wavenumber": 1273, "intensity": 23.0},
      {"sample": "Green", "wavenumber": 1280, "intensity": 22.0},
      {"sample": "Green", "wavenumber": 1287, "intensity": 21.6},
      {"sample": "Green", "wavenumber": 1300, "intensity": 20.3},
      {"sample": "Green", "wavenumber": 1318, "intensity": 19.2},
      {"sample": "Green", "wavenumber": 1340, "intensity": 18.3},
      {"sample": "Green", "wavenumber": 1366, "intensity": 17.6},
      {"sample": "Green", "wavenumber": 1385, "intensity": 17.3},
      {"sample": "Green", "wavenumber": 1398, "intensity": 17.4},
      {"sample": "Green", "wavenumber": 1410, "intensity": 17.0},
      {"sample": "Green", "wavenumber": 1420, "intensity": 17.5},
      {"sample": "Green", "wavenumber": 1428, "intensity": 17.0},
      {"sample": "Green", "wavenumber": 1440, "intensity": 16.4},
      {"sample": "Green", "wavenumber": 1461, "intensity": 15.7},
      {"sample": "Green", "wavenumber": 1485, "intensity": 14.5},
      {"sample": "Green", "wavenumber": 1509, "intensity": 13.3},
      {"sample": "Green", "wavenumber": 1540, "intensity": 12.2},
      {"sample": "Green", "wavenumber": 1565, "intensity": 11.5},
      {"sample": "Green", "wavenumber": 1580, "intensity": 11.2},
      {"sample": "Green", "wavenumber": 1600, "intensity": 11.8},
      {"sample": "Green", "wavenumber": 1616, "intensity": 12.8},
      {"sample": "Green", "wavenumber": 1628, "intensity": 14.1},
      {"sample": "Green", "wavenumber": 1645, "intensity": 16.5},
      {"sample": "Green", "wavenumber": 1660, "intensity": 18.1},
      {"sample": "Green", "wavenumber": 1667, "intensity": 18.4},
      {"sample": "Green", "wavenumber": 1676, "intensity": 17.6},
      {"sample": "Green", "wavenumber": 1684, "intensity": 17.3},
      {"sample": "Green", "wavenumber": 1692, "intensity": 17.0},
      {"sample": "Green", "wavenumber": 1700, "intensity": 16.2},
      {"sample": "Green", "wavenumber": 1712, "intensity": 14.0},
      {"sample": "Green", "wavenumber": 1723, "intensity": 12.0},
      {"sample": "Green", "wavenumber": 1740, "intensity": 10.0},
      {"sample": "Green", "wavenumber": 1757, "intensity": 8.8},
      {"sample": "Green", "wavenumber": 1775, "intensity": 7.8},
      {"sample": "Green", "wavenumber": 1795, "intensity": 7.1},
      {"sample": "Green", "wavenumber": 1830, "intensity": 6.6},
      {"sample": "Green", "wavenumber": 1875, "intensity": 6.1},
      {"sample": "Green", "wavenumber": 1950, "intensity": 5.4},
      {"sample": "Green", "wavenumber": 2033, "intensity": 4.8},
      {"sample": "Green", "wavenumber": 2110, "intensity": 4.5},
      {"sample": "Green", "wavenumber": 2190, "intensity": 4.2},
      {"sample": "Green", "wavenumber": 2260, "intensity": 4.0},
      {"sample": "Green", "wavenumber": 2319, "intensity": 3.9},
      {"sample": "Green", "wavenumber": 2400, "intensity": 4.1},
      {"sample": "Green", "wavenumber": 2509, "intensity": 4.5},
      {"sample": "Green", "wavenumber": 2600, "intensity": 4.9},
      {"sample": "Green", "wavenumber": 2700, "intensity": 5.2},
      {"sample": "Green", "wavenumber": 2795, "intensity": 5.6},
      {"sample": "Green", "wavenumber": 2843, "intensity": 6.1},
      {"sample": "Green", "wavenumber": 2870, "intensity": 6.8},
      {"sample": "Green", "wavenumber": 2881, "intensity": 7.1},
      {"sample": "Green", "wavenumber": 2910, "intensity": 7.2},
      {"sample": "Green", "wavenumber": 2938, "intensity": 7.4},
      {"sample": "Green", "wavenumber": 2955, "intensity": 7.8},
      {"sample": "Green", "wavenumber": 2962, "intensity": 8.3},
      {"sample": "Green", "wavenumber": 2970, "intensity": 8.5},
      {"sample": "Green", "wavenumber": 2980, "intensity": 8.2},
      {"sample": "Green", "wavenumber": 2990, "intensity": 7.7},
      {"sample": "Green", "wavenumber": 3000, "intensity": 7.0},
      {"sample": "Green", "wavenumber": 3009, "intensity": 6.6},
      {"sample": "Green", "wavenumber": 3047, "intensity": 6.6},
      {"sample": "Green", "wavenumber": 3100, "intensity": 6.9},
      {"sample": "Green", "wavenumber": 3143, "intensity": 7.1},
      {"sample": "Green", "wavenumber": 3220, "intensity": 7.5},
      {"sample": "Green", "wavenumber": 3305, "intensity": 7.9},
      {"sample": "Green", "wavenumber": 3360, "intensity": 8.1},
      {"sample": "Green", "wavenumber": 3400, "intensity": 8.2},
      {"sample": "Green", "wavenumber": 3462, "intensity": 7.8},
      {"sample": "Green", "wavenumber": 3540, "intensity": 7.2},
      {"sample": "Green", "wavenumber": 3619, "intensity": 6.6},
      {"sample": "Green", "wavenumber": 3660, "intensity": 6.3},
      {"sample": "Green", "wavenumber": 3700, "intensity": 6.1},
      {"sample": "Green", "wavenumber": 3760, "intensity": 5.9},
      {"sample": "Green", "wavenumber": 3857, "intensity": 5.6},
      {"sample": "Green", "wavenumber": 3930, "intensity": 5.4},
      {"sample": "Green", "wavenumber": 4000, "intensity": 5.1}
    ],
    "bandLines": [
      {"band": "SiC-CH3", "wavenumber": 781.7, "intensity": 0, "top": 90.9},
      {"band": "Si-O-Si a", "wavenumber": 1064.7, "intensity": 0, "top": 97.3},
      {"band": "Si-O-Si b", "wavenumber": 1160, "intensity": 0, "top": 97.3},
      {"band": "C-H in Si-CH3", "wavenumber": 1267.5, "intensity": 0, "top": 97.6},
      {"band": "C-H bending", "wavenumber": 1448.5, "intensity": 0, "top": 80.2},
      {"band": "O-H", "wavenumber": 1675.7, "intensity": 0, "top": 97.3},
      {"band": "C-O a", "wavenumber": 2318.7, "intensity": 0, "top": 97.3},
      {"band": "C-O b", "wavenumber": 2361.6, "intensity": 0, "top": 97.3}
    ],
    "bandBox": [
      {"band": "C-H bonds", "wavenumber": 2795, "wavenumber2": 3047, "intensity": -0.6, "top": 97.8}
    ],
    "bracket": [
      {"k": 1, "wavenumber": 1040.8, "intensity": 91.7},
      {"k": 2, "wavenumber": 1040.8, "intensity": 98.9},
      {"k": 3, "wavenumber": 1179, "intensity": 98.9},
      {"k": 4, "wavenumber": 1179, "intensity": 91.7}
    ],
    "arrowShaft": [
      {"k": 1, "wavenumber": 1267.5, "intensity": 97.6},
      {"k": 2, "wavenumber": 1409.5, "intensity": 107.1}
    ],
    "arrowTip": [
      {"wavenumber": 1426.6, "intensity": 108.2}
    ],
    "notes": [
      {"label": "SiC-CH₃", "wavenumber": 547, "intensity": 91.4},
      {"label": "C-H in Si-CH₃", "wavenumber": 1175.6, "intensity": 109.6},
      {"label": "O-H bond", "wavenumber": 1572.4, "intensity": 98.6},
      {"label": "C-H bending", "wavenumber": 1347, "intensity": 79.7},
      {"label": "C-O bond", "wavenumber": 2215.4, "intensity": 102.1},
      {"label": "from air", "wavenumber": 2215.4, "intensity": 97.8},
      {"label": "C-H bonds", "wavenumber": 2707.7, "intensity": 98.8}
    ],
    "seriesLabels": [
      {"label": "N²⁺ 5x10¹⁵ ions/cm²", "wavenumber": 3819, "intensity": 57.8},
      {"label": "N²⁺ 10¹⁵ ions/cm²", "wavenumber": 3890.4, "intensity": 41.0},
      {"label": "N²⁺ 10¹³ ions/cm²", "wavenumber": 3890.4, "intensity": 26.9},
      {"label": "Green", "wavenumber": 3938, "intensity": 7.4}
    ]
  },
  "encoding": {
    "x": {
      "field": "wavenumber",
      "type": "quantitative",
      "scale": {"domain": [385, 4400], "nice": false, "zero": false},
      "axis": {
        "title": "Wavenumber (cm⁻¹)",
        "titleFontSize": 30,
        "titleX": 396,
        "titleY": 50,
        "titleBaseline": "top",
        "values": [500, 750, 1000, 1250, 1500, 1750, 2000, 2250, 2500, 2750, 3000, 3250, 3500, 3750, 4000, 4250],
        "labelExpr": "datum.value % 500 === 0 ? format(datum.value, 'd') : ''",
        "labelFontSize": 23,
        "labelPadding": 12,
        "labelFlush": false,
        "labelOverlap": false,
        "tickSize": {"condition": {"test": "datum.value % 500 !== 0", "value": 4}, "value": 7},
        "tickColor": "black",
        "tickWidth": 1.5,
        "domainColor": "black",
        "domainWidth": 2,
        "grid": false
      }
    },
    "y": {
      "field": "intensity",
      "type": "quantitative",
      "scale": {"domain": [0, 100], "nice": false, "zero": false},
      "axis": {
        "title": "Intensity (arb. unit)",
        "titleFontSize": 29,
        "titleAngle": -90,
        "titleX": -30,
        "titleY": 312,
        "titleAlign": "center",
        "titleBaseline": "middle",
        "ticks": false,
        "labels": false,
        "grid": false,
        "domainColor": "black",
        "domainWidth": 2
      }
    }
  },
  "layer": [
    {
      "data": {"name": "spectra"},
      "mark": {"type": "line", "strokeWidth": 1.2, "strokeJoin": "round"},
      "encoding": {
        "color": {
          "field": "sample",
          "type": "nominal",
          "legend": null,
          "scale": {
            "domain": ["N2+ 5x10^15", "N2+ 10^15", "N2+ 10^13", "Green"],
            "range": ["#777777", "#252525", "#4d4d4d", "#111111"]
          }
        }
      }
    },
    {
      "data": {"name": "bandLines"},
      "mark": {"type": "rule", "color": "#333333", "strokeWidth": 1, "strokeDash": [4, 3]},
      "encoding": {"y2": {"field": "top"}}
    },
    {
      "data": {"name": "bandBox"},
      "mark": {"type": "rect", "filled": false, "stroke": "#333333", "strokeWidth": 1, "strokeDash": [4, 3]},
      "encoding": {"x2": {"field": "wavenumber2"}, "y2": {"field": "top"}}
    },
    {
      "data": {"name": "bracket"},
      "mark": {"type": "line", "color": "black", "strokeWidth": 3, "strokeJoin": "miter", "strokeCap": "butt"},
      "encoding": {"order": {"field": "k", "type": "ordinal"}}
    },
    {
      "data": {"name": "arrowShaft"},
      "mark": {"type": "line", "color": "black", "strokeWidth": 2.2},
      "encoding": {"order": {"field": "k", "type": "ordinal"}}
    },
    {
      "data": {"name": "arrowTip"},
      "mark": {"type": "point", "shape": "M0,0L0.7,2.2L-0.7,2.2Z", "size": 213, "angle": 26.6, "filled": true, "color": "black", "opacity": 1, "strokeWidth": 0}
    },
    {
      "data": {"name": "notes"},
      "mark": {"type": "text", "font": "Liberation Sans", "fontSize": 21, "align": "left", "baseline": "alphabetic", "color": "black"},
      "encoding": {"text": {"field": "label"}}
    },
    {
      "data": {"name": "seriesLabels"},
      "mark": {"type": "text", "font": "Liberation Sans", "fontSize": 29, "align": "left", "baseline": "alphabetic", "color": "black"},
      "encoding": {"text": {"field": "label"}}
    }
  ]
}
